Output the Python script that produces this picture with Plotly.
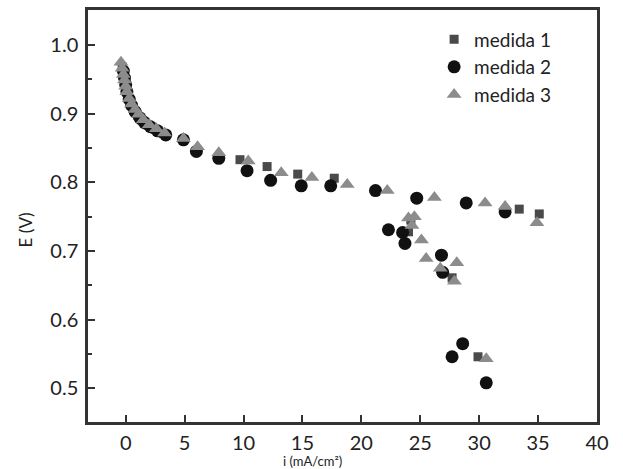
import plotly.graph_objects as go

# ---- data ----
i_m1 = [-0.3, -0.2, -0.1, 0.0, 0.2, 0.4, 0.7, 1.0, 1.4, 1.9, 2.5, 3.2,
        9.7, 12.0, 14.6, 17.7, 24.2, 24.0, 27.7, 29.9, 33.4, 35.1]
E_m1 = [0.968, 0.958, 0.948, 0.938, 0.925, 0.915, 0.905, 0.898, 0.890, 0.883, 0.877, 0.871,
        0.833, 0.823, 0.812, 0.806, 0.745, 0.728, 0.661, 0.546, 0.761, 0.754]

i_m2 = [-0.2, -0.1, 0.0, 0.1, 0.3, 0.5, 0.8, 1.2, 1.6, 2.1, 2.7, 3.4,
        4.9, 6.0, 7.9, 10.3, 12.3, 14.9, 17.4, 21.2, 22.3, 23.5, 23.7, 24.7,
        26.8, 26.9, 27.7, 28.6, 28.9, 30.6, 32.2]
E_m2 = [0.962, 0.952, 0.942, 0.932, 0.921, 0.912, 0.903, 0.894, 0.887, 0.881, 0.875, 0.869,
        0.862, 0.845, 0.835, 0.817, 0.803, 0.795, 0.795, 0.788, 0.731, 0.727, 0.711, 0.777,
        0.694, 0.669, 0.546, 0.565, 0.770, 0.508, 0.757]

i_m3 = [-0.4, -0.3, -0.2, -0.1, 0.0, 0.1, 0.3, 0.5, 0.8, 1.1, 1.5, 2.0, 2.6, 3.3,
        4.9, 6.1, 7.9, 10.4, 13.2, 15.8, 18.8, 22.2, 24.0, 24.5, 24.3, 25.1,
        25.5, 26.2, 26.7, 28.1, 27.9, 30.5, 30.6, 32.2, 34.9]
E_m3 = [0.975, 0.966, 0.957, 0.949, 0.940, 0.932, 0.922, 0.914, 0.906, 0.899, 0.891, 0.884, 0.878, 0.872,
        0.864, 0.852, 0.843, 0.831, 0.814, 0.807, 0.797, 0.788, 0.748, 0.750, 0.737, 0.716,
        0.689, 0.778, 0.675, 0.683, 0.656, 0.770, 0.543, 0.765, 0.741]

series_names = ["medida 1", "medida 2", "medida 3"]
x_ticks = [0, 5, 10, 15, 20, 25, 30, 35, 40]
y_ticks = [0.5, 0.6, 0.7, 0.8, 0.9, 1.0]

FONT = "Lato"
L, R, T, B = 88, 26, 7, 47
W, H = 623, 469
pw, ph = W - L - R, H - T - B


def px_to_paper(x, y):
    return (x - L) / pw, 1 - (y - T) / ph


fig = go.Figure()
fig.add_trace(go.Scatter(x=i_m1, y=E_m1, mode="markers", name=series_names[0], legendgroup="a",
                         marker=dict(symbol="square", size=9, color="#4a4a4a")))
fig.add_trace(go.Scatter(x=i_m2, y=E_m2, mode="markers", name=series_names[1], legendgroup="b",
                         marker=dict(symbol="circle", size=13, color="#111111")))
fig.add_trace(go.Scatter(x=i_m3, y=E_m3, mode="markers", name=series_names[2], legendgroup="c",
                         marker=dict(symbol="triangle-up", size=13, color="#8c8c8c")))

xt_x, xt_y = px_to_paper(312, 461)
yt_x, yt_y = px_to_paper(25, 229)

fig.update_layout(
    width=W, height=H,
    margin=dict(l=L, r=R, t=T, b=B),
    paper_bgcolor="white", plot_bgcolor="white",
    font=dict(family=FONT, size=20, color="#222222"),
    showlegend=True,
    legend=dict(x=0.68, y=0.975, xanchor="left", yanchor="top",
                bgcolor="rgba(0,0,0,0)", font=dict(size=19, color="#222222"),
                traceorder="grouped", tracegroupgap=0, itemsizing="trace"),
    xaxis=dict(range=[-3.2, 40], tickvals=x_ticks, ticks="inside", ticklen=7, tickwidth=2,
               tickcolor="#333333", showline=True, linewidth=2.5, linecolor="#333333",
               mirror=True, showgrid=False, zeroline=False, ticklabelstandoff=1),
    yaxis=dict(range=[0.451, 1.051], tickvals=y_ticks, tickformat=".1f", ticks="inside",
               ticklen=7, tickwidth=2, tickcolor="#333333", showline=True, linewidth=2.5,
               linecolor="#333333", mirror=True, showgrid=False, zeroline=False,
               ticklabelstandoff=3,
               minor=dict(dtick=0.05, tick0=0.5, ticks="inside", ticklen=4, tickwidth=2,
                          tickcolor="#333333", showgrid=False)),
    annotations=[
        dict(text="i (mA/cm²)", x=xt_x, y=xt_y, xref="paper", yref="paper", showarrow=False,
             xanchor="center", yanchor="middle", font=dict(size=13, color="#222222")),
        dict(text="E (V)", x=yt_x, y=yt_y, xref="paper", yref="paper", showarrow=False,
             xanchor="center", yanchor="middle", textangle=-90,
             font=dict(size=17, color="#222222")),
    ],
)

fig.write_html("out.html")
